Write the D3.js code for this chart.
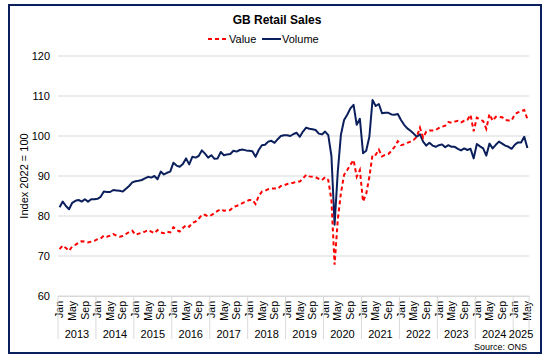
<!DOCTYPE html>
<html>
<head>
<meta charset="utf-8">
<script src="https://cdn.jsdelivr.net/npm/d3@7"></script>
<style>
  body { margin: 0; background: #fff; }
  text { font-family: "Liberation Sans", Arial, sans-serif; fill: #000; }
</style>
</head>
<body>
<div id="chart"></div>
<script>
// monthly index values, Jan 2013 - May 2025
var years = [2013, 2014, 2015, 2016, 2017, 2018, 2019, 2020, 2021, 2022, 2023, 2024, 2025];
var monthNames = ["Jan","Feb","Mar","Apr","May","Jun","Jul","Aug","Sep","Oct","Nov","Dec"];
var shownMonths = ["Jan", "May", "Sep"];
var yTicks = [60, 70, 80, 90, 100, 110, 120];

var valueSeries = [
  71.7, 72.6, 72.0, 71.3, 72.4, 72.8, 73.3, 73.7, 73.6, 73.4, 73.6, 73.8,
  74.2, 74.4, 75.1, 74.8, 75.1, 75.5, 75.1, 74.8, 75.0, 75.5, 76.0, 76.3,
  75.3, 75.6, 75.8, 76.1, 76.5, 76.1, 75.7, 76.5, 75.9, 75.7, 76.1, 75.9,
  77.2, 76.5, 76.1, 77.0, 77.7, 77.3, 78.3, 78.6, 79.3, 80.3, 80.3, 79.9,
  80.2, 80.7, 81.3, 81.7, 81.3, 81.4, 81.5, 82.3, 82.5, 82.9, 83.3, 83.6,
  84.0, 84.0, 83.0, 85.0, 86.1, 86.3, 86.7, 86.9, 86.9, 86.8, 87.5, 87.6,
  88.0, 88.2, 88.3, 88.6, 88.6, 89.4, 90.3, 89.9, 89.8, 89.7, 89.3, 89.0,
  89.7, 89.0, 84.0, 67.8, 79.0, 85.7, 90.3, 91.5, 92.8, 94.0, 89.8, 91.5,
  83.6, 85.5, 89.8, 95.3, 95.3, 96.6, 94.9, 95.3, 95.5, 96.3, 97.3, 98.7,
  97.7, 97.9, 98.3, 98.6, 99.0, 99.8, 102.1, 99.6, 101.1, 101.4, 101.4, 101.5,
  102.0, 102.3, 102.6, 103.5, 103.3, 103.6, 103.8, 103.4, 103.8, 104.0, 105.3, 101.2,
  104.6, 104.2, 103.7, 101.8, 105.5, 103.8, 104.8, 104.8, 104.7, 104.0, 103.9, 103.9,
  105.4, 105.9, 106.2, 106.5, 104.2
];

var volumeSeries = [
  82.2, 83.6, 82.5, 81.7, 83.3, 83.8, 84.0, 83.6, 84.2, 83.6, 84.2, 84.2,
  84.3, 84.8, 86.1, 86.0, 86.0, 86.5, 86.4, 86.3, 86.1, 86.8, 87.5, 88.4,
  88.7, 88.8, 89.0, 89.4, 89.8, 89.6, 90.0, 89.2, 91.1, 90.4, 90.8, 91.1,
  93.3, 92.6, 92.3, 93.0, 94.4, 92.9, 94.8, 94.6, 95.0, 96.4, 95.6, 94.6,
  95.2, 94.3, 94.4, 96.0, 95.2, 95.4, 95.5, 96.3, 96.1, 96.5, 96.6, 96.4,
  96.3, 96.2, 94.8, 96.5, 97.7, 97.8, 98.6, 98.8, 98.3, 99.2, 100.0, 100.2,
  100.2, 100.0, 100.5, 100.8, 99.8, 101.1, 102.1, 101.8, 101.7, 101.5, 100.6, 100.4,
  101.1, 100.2, 95.0, 77.8, 91.0, 100.3, 104.0, 105.3, 106.9, 107.8, 102.8, 104.3,
  95.7, 96.3, 99.8, 109.0, 107.5, 108.0, 105.7, 105.8, 105.8, 105.4, 105.3, 105.5,
  104.0, 102.8, 101.9, 101.3, 100.6, 99.8, 100.4, 98.6, 97.6, 98.3, 97.6, 97.3,
  97.7, 97.9, 97.2, 97.7, 97.3, 97.3, 96.8, 96.4, 96.9, 96.5, 96.8, 94.4,
  98.0, 97.4, 96.9, 95.1, 98.1, 96.9, 97.8, 98.6, 98.1, 97.6, 97.3, 96.8,
  97.8, 98.4, 98.4, 99.8, 97.0
];

// build month records from the arrays
var months = valueSeries.map(function(v, i) {
  return {
    i: i,
    year: years[Math.floor(i / 12)],
    month: monthNames[i % 12],
    value: v,
    volume: volumeSeries[i]
  };
});

var W = 554, H = 363;
var margin = {top: 56, right: 25, bottom: 67, left: 58},
    width = W - margin.left - margin.right,
    height = H - margin.top - margin.bottom;

var svg = d3.select("#chart")
  .append("svg")
    .attr("width", W)
    .attr("height", H);

// outer frame
svg.append("rect")
    .attr("x", 9).attr("y", 5)
    .attr("width", 532).attr("height", 348)
    .attr("fill", "none")
    .attr("stroke", "#0b1f5c")
    .attr("stroke-width", 2);

svg.append("text")
    .attr("x", 277).attr("y", 24)
    .attr("text-anchor", "middle")
    .style("font-size", "12px")
    .style("font-weight", "bold")
    .text("GB Retail Sales");

var g = svg.append("g")
    .attr("transform", "translate(" + margin.left + "," + margin.top + ")");

var x = d3.scaleBand()
    .domain(months.map(function(d) { return d.i; }))
    .range([0, width])
    .padding(0);

var y = d3.scaleLinear()
    .domain([60, 120])
    .range([height, 0]);

// gridlines
g.append("g")
    .selectAll("line")
    .data(yTicks)
    .enter().append("line")
    .attr("x1", 0).attr("x2", width)
    .attr("y1", function(d) { return y(d); })
    .attr("y2", function(d) { return y(d); })
    .attr("stroke", "#d9d9d9")
    .attr("stroke-width", 1);

// y axis labels
var yAxis = g.append("g")
    .attr("transform", "translate(-8,0)")
    .call(d3.axisLeft(y).tickValues(yTicks).tickSize(0).tickPadding(0));
yAxis.select(".domain").remove();
yAxis.selectAll("text")
    .style("font-size", "11px")
    .style("font-family", "'Liberation Sans', Arial, sans-serif")
    .attr("fill", "#000");

g.append("text")
    .attr("transform", "rotate(-90)")
    .attr("x", -height / 2)
    .attr("y", -30)
    .attr("text-anchor", "middle")
    .style("font-size", "11px")
    .text("Index 2022 = 100");

// x axis: month labels
var xAxis = g.append("g")
    .attr("transform", "translate(0," + height + ")")
    .call(d3.axisBottom(x)
      .tickValues(months.filter(function(d) { return shownMonths.indexOf(d.month) >= 0; })
        .map(function(d) { return d.i; }))
      .tickFormat(function(i) { return months[i].month; })
      .tickSize(0));
xAxis.select(".domain").attr("stroke", "#d9d9d9");
xAxis.selectAll("text")
    .style("font-size", "10.5px")
    .style("font-family", "'Liberation Sans', Arial, sans-serif")
    .attr("fill", "#000")
    .attr("transform", "rotate(-90)")
    .attr("text-anchor", "end")
    .attr("x", -5)
    .attr("y", 0)
    .attr("dy", "0.35em");

// year separators and labels
var yearStarts = years.map(function(yr, k) { return k * 12; });
var bounds = yearStarts.map(function(i) { return x(i); }).concat([width]);
g.append("g")
    .selectAll("line")
    .data(bounds)
    .enter().append("line")
    .attr("x1", function(d) { return d; })
    .attr("x2", function(d) { return d; })
    .attr("y1", height)
    .attr("y2", height + 43)
    .attr("stroke", "#d9d9d9");

g.append("g")
    .selectAll("text")
    .data(years)
    .enter().append("text")
    .attr("x", function(yr, k) {
      var last = Math.min(k * 12 + 11, months.length - 1);
      return (x(k * 12) + x(last) + x.bandwidth()) / 2;
    })
    .attr("y", height + 42)
    .attr("text-anchor", "middle")
    .style("font-size", "11px")
    .text(function(d) { return d; });

// lines
var lineValue = d3.line()
    .x(function(d) { return x(d.i) + x.bandwidth() / 2; })
    .y(function(d) { return y(d.value); });
var lineVolume = d3.line()
    .x(function(d) { return x(d.i) + x.bandwidth() / 2; })
    .y(function(d) { return y(d.volume); });

g.append("path")
    .datum(months)
    .attr("d", lineVolume)
    .attr("fill", "none")
    .attr("stroke", "#0b1f5c")
    .attr("stroke-width", 2)
    .attr("stroke-linejoin", "round");

g.append("path")
    .datum(months)
    .attr("d", lineValue)
    .attr("fill", "none")
    .attr("stroke", "#ff0000")
    .attr("stroke-width", 2)
    .attr("stroke-dasharray", "4,3");

// legend
var legend = svg.append("g");
legend.append("line")
    .attr("x1", 208).attr("x2", 228).attr("y1", 39).attr("y2", 39)
    .attr("stroke", "#ff0000").attr("stroke-width", 2)
    .attr("stroke-dasharray", "4,3");
legend.append("text")
    .attr("x", 229).attr("y", 43)
    .style("font-size", "11px")
    .text("Value");
legend.append("line")
    .attr("x1", 262).attr("x2", 281).attr("y1", 39).attr("y2", 39)
    .attr("stroke", "#0b1f5c").attr("stroke-width", 2);
legend.append("text")
    .attr("x", 282).attr("y", 43)
    .style("font-size", "11px")
    .text("Volume");

svg.append("text")
    .attr("x", 527).attr("y", 350)
    .attr("text-anchor", "end")
    .style("font-size", "9px")
    .text("Source: ONS");
</script>
</body>
</html>
